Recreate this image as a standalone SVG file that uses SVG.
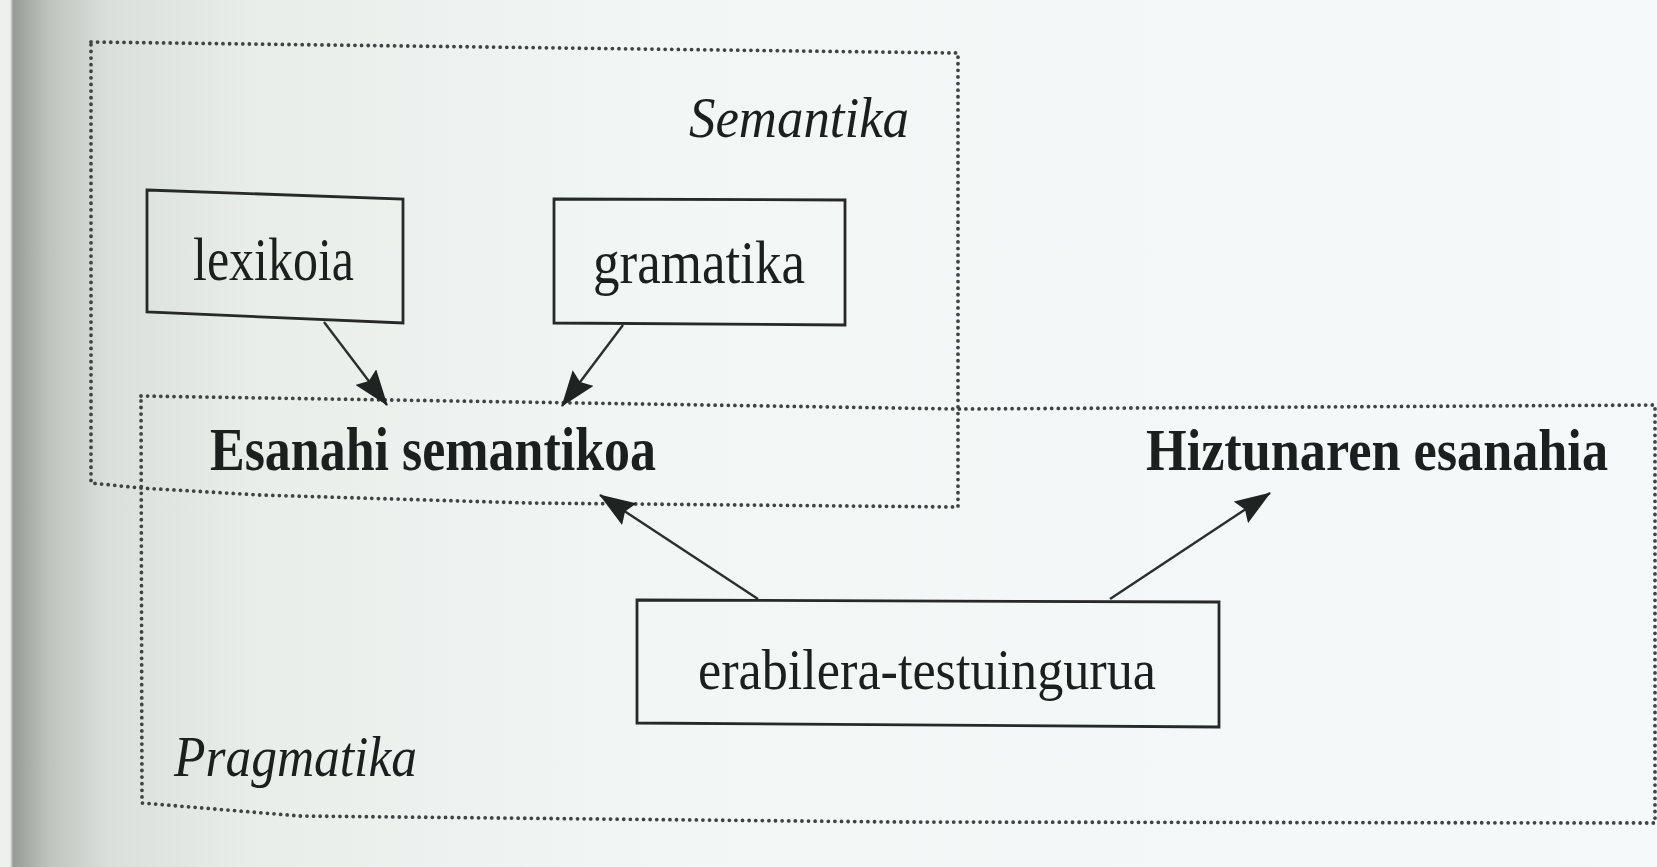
<svg xmlns="http://www.w3.org/2000/svg" width="1657" height="867" viewBox="0 0 1657 867">
<defs>
<linearGradient id="page" x1="0" y1="0" x2="1" y2="0">
<stop offset="0" stop-color="#eef0ee"/>
<stop offset="0.006" stop-color="#eef0ee"/>
<stop offset="0.008" stop-color="#979c97"/>
<stop offset="0.03" stop-color="#bfc4bf"/>
<stop offset="0.065" stop-color="#dadfdb"/>
<stop offset="0.15" stop-color="#e9edea"/>
<stop offset="0.4" stop-color="#f2f6f5"/>
<stop offset="1" stop-color="#f6f9f9"/>
</linearGradient>
<marker id="ah" markerUnits="userSpaceOnUse" markerWidth="36" markerHeight="26" viewBox="0 0 36 26" refX="35" refY="13" orient="auto">
<path d="M0,0 L36,13 L0,26 L5,13 Z" fill="#1f2321"/>
</marker>
</defs>
<style>
.dot{fill:none;stroke:#3f4341;stroke-width:3.8;stroke-linecap:round;stroke-dasharray:0 6.6}
.box{fill:none;stroke:#262927;stroke-width:2.8}
.conn{stroke:#2a2e2c;stroke-width:2.4;fill:none}
.t{font-family:"Liberation Serif","Times New Roman",serif;fill:#1b1f1d}
.b{font-weight:bold}
.i{font-style:italic}
</style>
<rect x="0" y="0" width="1657" height="867" fill="url(#page)"/>

<g id="semantika">
<path class="dot" d="M91,42 L958,53 L958,507 L528,503 L260,495 L141,488 L91,483 Z"/>
<text class="t i" x="689" y="137" font-size="56" textLength="220" lengthAdjust="spacingAndGlyphs">Semantika</text>
</g>

<g id="pragmatika">
<path class="dot" d="M141,396 L958,409 L1655,405 L1655,823 L900,822 L300,816 L142,803 Z"/>
<text class="t i" x="174" y="776" font-size="56" textLength="243" lengthAdjust="spacingAndGlyphs">Pragmatika</text>
</g>

<g id="lexikoia">
<path class="box" d="M147,190 L403,199 L403,323 L147,312 Z"/>
<text class="t" x="193" y="280" font-size="61" textLength="161" lengthAdjust="spacingAndGlyphs">lexikoia</text>
</g>

<g id="gramatika">
<path class="box" d="M554,199 L845,200 L845,325 L554,323 Z"/>
<text class="t" x="593" y="283" font-size="61" textLength="212" lengthAdjust="spacingAndGlyphs">gramatika</text>
</g>

<g id="esanahi-semantikoa">
<text class="t b" x="210" y="470" font-size="61" textLength="446" lengthAdjust="spacingAndGlyphs">Esanahi semantikoa</text>
</g>

<g id="hiztunaren-esanahia">
<text class="t b" x="1146" y="470" font-size="60" textLength="462" lengthAdjust="spacingAndGlyphs">Hiztunaren esanahia</text>
</g>

<g id="erabilera-testuingurua">
<path class="box" d="M637,600 L1219,602 L1219,727 L637,723 Z"/>
<text class="t" x="698" y="689" font-size="58" textLength="458" lengthAdjust="spacingAndGlyphs">erabilera-testuingurua</text>
</g>

<g id="connectors">
<line class="conn" x1="324" y1="322" x2="387" y2="405" marker-end="url(#ah)"/>
<line class="conn" x1="623" y1="325" x2="562" y2="406" marker-end="url(#ah)"/>
<line class="conn" x1="758" y1="599" x2="600" y2="495" marker-end="url(#ah)"/>
<line class="conn" x1="1110" y1="599" x2="1270" y2="493" marker-end="url(#ah)"/>
</g>
</svg>
